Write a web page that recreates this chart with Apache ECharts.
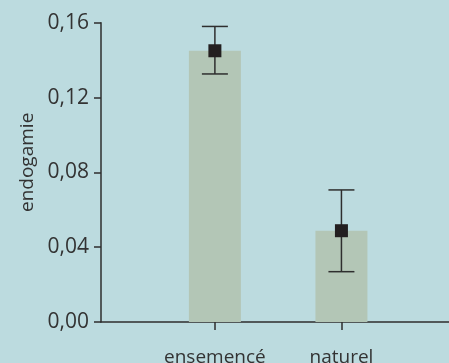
<!DOCTYPE html>
<html>
<head>
<meta charset="utf-8">
<script src="https://cdn.jsdelivr.net/npm/echarts@6/dist/echarts.min.js"></script>
<style>
html,body{margin:0;padding:0;background:#bcdbdf;}
#c{width:449px;height:363px;}
</style>
</head>
<body>
<div id="c"></div>
<script>
var categories = ['ensemencé', 'naturel'];
var catPos = [1, 2];
var means = [0.145, 0.0488];
var upper = [0.158, 0.0706];
var lower = [0.1326, 0.0269];
var yTicks = [0, 0.04, 0.08, 0.12, 0.16];

var FONT = '"Open Sans", "Noto Sans", sans-serif';
var INK = '#2e2e2e';

var barData = catPos.map(function (p, i) { return [p, means[i]]; });
var errData = catPos.map(function (p, i) { return [p, lower[i], upper[i]]; });

var chart = echarts.init(document.getElementById('c'));
chart.setOption({
  backgroundColor: '#bcdbdf',
  animation: false,
  grid: { left: 101, right: 0, top: 22.7, bottom: 41, containLabel: false, outerBoundsMode: 'none' },
  xAxis: {
    type: 'value',
    min: 0.1,
    max: 2.85,
    splitLine: { show: false },
    axisLine: { show: true, onZero: false, lineStyle: { color: INK, width: 1.5 } },
    axisTick: { show: true, customValues: catPos, length: 8, lineStyle: { color: INK, width: 1.5 } },
    axisLabel: {
      customValues: catPos,
      margin: 26,
      fontFamily: FONT,
      fontSize: 19,
      color: '#333',
      formatter: function (v) {
        var i = catPos.indexOf(Math.round(v));
        return i >= 0 ? categories[i] : '';
      }
    }
  },
  yAxis: {
    type: 'value',
    min: 0,
    max: 0.16,
    interval: 0.04,
    name: 'endogamie',
    nameLocation: 'middle',
    nameGap: 64,
    nameTextStyle: { fontFamily: FONT, fontSize: 19, color: '#333', padding: [0, 0, 0, 20] },
    splitLine: { show: false },
    axisLine: { show: true, lineStyle: { color: INK, width: 1.5 } },
    axisTick: { show: true, length: 7, lineStyle: { color: INK, width: 1.5 } },
    axisLabel: {
      margin: 12,
      fontFamily: FONT,
      fontSize: 21,
      color: '#333',
      formatter: function (v) { return v.toFixed(2).replace('.', ','); }
    }
  },
  series: [
    {
      type: 'bar',
      data: barData,
      barWidth: 52,
      itemStyle: { color: '#b3c6b6' },
      z: 1
    },
    {
      type: 'custom',
      data: errData,
      z: 3,
      renderItem: function (params, api) {
        var x = api.value(0);
        var lo = api.coord([x, api.value(1)]);
        var hi = api.coord([x, api.value(2)]);
        var hw = 13;
        var style = { stroke: INK, lineWidth: 1.5 };
        return {
          type: 'group',
          children: [
            { type: 'line', shape: { x1: lo[0], y1: lo[1], x2: hi[0], y2: hi[1] }, style: style },
            { type: 'line', shape: { x1: lo[0] - hw, y1: lo[1], x2: lo[0] + hw, y2: lo[1] }, style: style },
            { type: 'line', shape: { x1: hi[0] - hw, y1: hi[1], x2: hi[0] + hw, y2: hi[1] }, style: style }
          ]
        };
      }
    },
    {
      type: 'scatter',
      data: barData,
      symbol: 'rect',
      symbolSize: 13,
      itemStyle: { color: '#231f20', opacity: 1 },
      z: 4
    }
  ]
});
</script>
</body>
</html>
